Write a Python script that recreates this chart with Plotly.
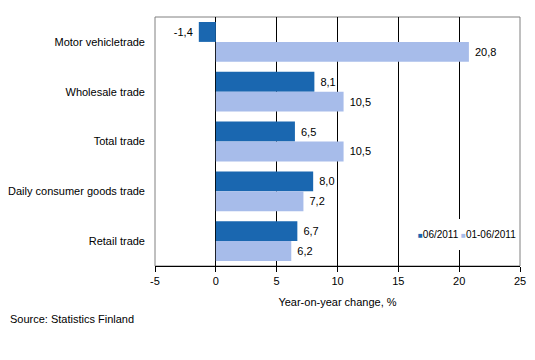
import plotly.graph_objects as go

categories = ["Motor vehicletrade", "Wholesale trade", "Total trade",
              "Daily consumer goods trade", "Retail trade"]
series_names = ["06/2011", "01-06/2011"]
values_0611 = [-1.4, 8.1, 6.5, 8.0, 6.7]
values_0106 = [20.8, 10.5, 10.5, 7.2, 6.2]
x_ticks = [-5, 0, 5, 10, 15, 20, 25]

dark = "#1A67B0"
light = "#A7BCEA"
font = "Liberation Sans, Arial, sans-serif"
NB = "\u00a0"


def label(v):
    s = f"{v:.1f}".replace(".", ",")
    return s + NB if v < 0 else NB + s


fig = go.Figure()
for name, vals, col in [(series_names[0], values_0611, dark),
                        (series_names[1], values_0106, light)]:
    fig.add_trace(go.Bar(
        y=categories, x=vals, name=name, orientation="h",
        marker=dict(color=col, line=dict(width=0)),
        text=[label(v) for v in vals],
        textposition="outside", cliponaxis=False,
        textfont=dict(family=font, size=11, color="black"),
    ))

PW, PH = 365, 249

fig.update_layout(
    width=535, height=360,
    margin=dict(l=155, r=15, t=17, b=94, autoexpand=False),
    paper_bgcolor="white", plot_bgcolor="white",
    barmode="group", bargap=0.2, bargroupgap=0,
    font=dict(family=font, size=11, color="black"),
    showlegend=False,
    xaxis=dict(range=[-5, 25], tickvals=x_ticks, ticktext=[str(t) for t in x_ticks],
               showgrid=True, gridcolor="black", gridwidth=1,
               zeroline=True, zerolinecolor="black", zerolinewidth=1,
               showline=True, linecolor="black", linewidth=1,
               ticks="outside", ticklen=5, tickcolor="black",
               tickfont=dict(size=11), automargin=False,
               title=dict(text="Year-on-year change, %", font=dict(size=11), standoff=12)),
    yaxis=dict(autorange="reversed", showgrid=False, zeroline=False, automargin=False,
               ticks="", ticklabelstandoff=9, tickfont=dict(size=11)),
    shapes=[
        dict(type="rect", xref="paper", yref="paper", x0=0, x1=1, y0=0, y1=1,
             line=dict(color="#808080", width=1), layer="below"),
        dict(type="rect", xref="paper", yref="paper",
             x0=(413-155)/PW, x1=(512-155)/PW, y0=(266-250)/PH, y1=(266-219)/PH,
             fillcolor="white", line=dict(width=0), layer="above"),
    ],
    annotations=[
        dict(text="Source: Statistics Finland", xref="paper", yref="paper",
             x=-147/PW, y=-53/PH, xanchor="left", yanchor="middle",
             showarrow=False, font=dict(size=11)),
        dict(text=f"<span style='color:{dark};font-size:8px'>■</span>{series_names[0]} "
                  f"<span style='color:{light};font-size:8px'>■</span>{series_names[1]}",
             xref="paper", yref="paper", x=(416-155)/PW, y=(266-234)/PH,
             xanchor="left", yanchor="middle", showarrow=False,
             font=dict(size=10)),
    ],
)

fig.write_html("out.html", config={"displayModeBar": False},
               post_script="document.body.style.margin='0';document.body.style.overflow='hidden';")
